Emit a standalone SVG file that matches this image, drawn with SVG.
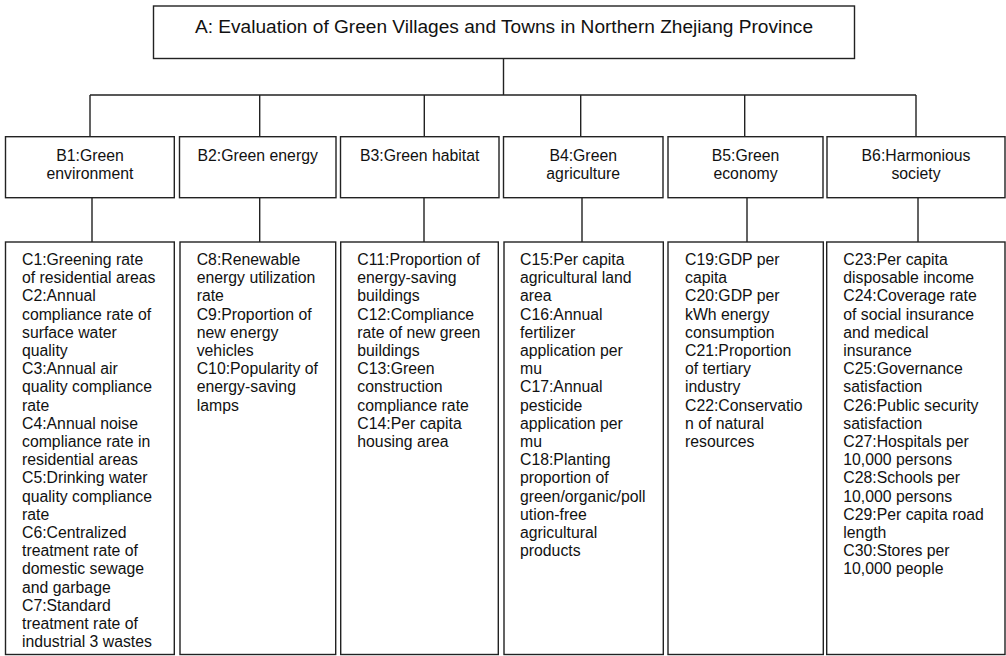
<svg xmlns="http://www.w3.org/2000/svg" width="1006" height="656" viewBox="0 0 1006 656">
<style>
.box{fill:#fff;stroke:#222;stroke-width:1.4}
.ln{stroke:#222;stroke-width:1.4;fill:none}
.t{font-family:"Liberation Sans",Arial,sans-serif;font-size:15.8px;fill:#111}
.title{font-family:"Liberation Sans",Arial,sans-serif;font-size:19.1px;fill:#111}
.c{text-anchor:middle}
</style>
<rect width="1006" height="656" fill="#fff"/>
<g id="connectors">
<path class="ln" d="M503.5 58.5V95M90 95H916M90 95V136.7M259.7 95V136.7M424.3 95V136.7M580.7 95V136.7M744.7 95V136.7M916 95V136.7"/>
<path class="ln" d="M92 197.7V242M259.7 197.7V242M424 197.7V242M582 197.7V242M747 197.7V242M918 197.7V242"/>
</g>
<g id="A">
<rect class="box" x="153.5" y="6" width="701" height="52.5"/>
<text class="title c" x="504" y="33">A: Evaluation of Green Villages and Towns in Northern Zhejiang Province</text>
</g>
<g id="B1">
<rect class="box" x="5.5" y="136.7" width="168.8" height="61"/>
<text class="t c" x="90" y="161">B1:Green<tspan x="90" dy="18">environment</tspan></text>
</g>
<g id="B2">
<rect class="box" x="179.5" y="136.7" width="156.5" height="61"/>
<text class="t c" x="257.7" y="161">B2:Green energy</text>
</g>
<g id="B3">
<rect class="box" x="340.5" y="136.7" width="158.5" height="61"/>
<text class="t c" x="419.7" y="161">B3:Green habitat</text>
</g>
<g id="B4">
<rect class="box" x="503.5" y="136.7" width="159.5" height="61"/>
<text class="t c" x="583.2" y="161">B4:Green<tspan x="583.2" dy="18">agriculture</tspan></text>
</g>
<g id="B5">
<rect class="box" x="668" y="136.7" width="155" height="61"/>
<text class="t c" x="745.5" y="161">B5:Green<tspan x="745.5" dy="18">economy</tspan></text>
</g>
<g id="B6">
<rect class="box" x="827" y="136.7" width="178" height="61"/>
<text class="t c" x="916" y="161">B6:Harmonious<tspan x="916" dy="18">society</tspan></text>
</g>
<g id="C1-C7">
<rect class="box" x="5.5" y="242" width="168.8" height="412.5"/>
<text class="t" x="22" y="265">C1:Greening rate<tspan x="22" dy="18.2">of residential areas</tspan><tspan x="22" dy="18.2">C2:Annual</tspan><tspan x="22" dy="18.2">compliance rate of</tspan><tspan x="22" dy="18.2">surface water</tspan><tspan x="22" dy="18.2">quality</tspan><tspan x="22" dy="18.2">C3:Annual air</tspan><tspan x="22" dy="18.2">quality compliance</tspan><tspan x="22" dy="18.2">rate</tspan><tspan x="22" dy="18.2">C4:Annual noise</tspan><tspan x="22" dy="18.2">compliance rate in</tspan><tspan x="22" dy="18.2">residential areas</tspan><tspan x="22" dy="18.2">C5:Drinking water</tspan><tspan x="22" dy="18.2">quality compliance</tspan><tspan x="22" dy="18.2">rate</tspan><tspan x="22" dy="18.2">C6:Centralized</tspan><tspan x="22" dy="18.2">treatment rate of</tspan><tspan x="22" dy="18.2">domestic sewage</tspan><tspan x="22" dy="18.2">and garbage</tspan><tspan x="22" dy="18.2">C7:Standard</tspan><tspan x="22" dy="18.2">treatment rate of</tspan><tspan x="22" dy="18.2">industrial 3 wastes</tspan></text>
</g>
<g id="C8-C10">
<rect class="box" x="180" y="242" width="155.7" height="412.5"/>
<text class="t" x="196.7" y="265">C8:Renewable<tspan x="196.7" dy="18.2">energy utilization</tspan><tspan x="196.7" dy="18.2">rate</tspan><tspan x="196.7" dy="18.2">C9:Proportion of</tspan><tspan x="196.7" dy="18.2">new energy</tspan><tspan x="196.7" dy="18.2">vehicles</tspan><tspan x="196.7" dy="18.2">C10:Popularity of</tspan><tspan x="196.7" dy="18.2">energy-saving</tspan><tspan x="196.7" dy="18.2">lamps</tspan></text>
</g>
<g id="C11-C14">
<rect class="box" x="340.7" y="242" width="157.6" height="412.5"/>
<text class="t" x="357.3" y="265">C11:Proportion of<tspan x="357.3" dy="18.2">energy-saving</tspan><tspan x="357.3" dy="18.2">buildings</tspan><tspan x="357.3" dy="18.2">C12:Compliance</tspan><tspan x="357.3" dy="18.2">rate of new green</tspan><tspan x="357.3" dy="18.2">buildings</tspan><tspan x="357.3" dy="18.2">C13:Green</tspan><tspan x="357.3" dy="18.2">construction</tspan><tspan x="357.3" dy="18.2">compliance rate</tspan><tspan x="357.3" dy="18.2">C14:Per capita</tspan><tspan x="357.3" dy="18.2">housing area</tspan></text>
</g>
<g id="C15-C18">
<rect class="box" x="504" y="242" width="159.3" height="412.5"/>
<text class="t" x="520" y="265">C15:Per capita<tspan x="520" dy="18.2">agricultural land</tspan><tspan x="520" dy="18.2">area</tspan><tspan x="520" dy="18.2">C16:Annual</tspan><tspan x="520" dy="18.2">fertilizer</tspan><tspan x="520" dy="18.2">application per</tspan><tspan x="520" dy="18.2">mu</tspan><tspan x="520" dy="18.2">C17:Annual</tspan><tspan x="520" dy="18.2">pesticide</tspan><tspan x="520" dy="18.2">application per</tspan><tspan x="520" dy="18.2">mu</tspan><tspan x="520" dy="18.2">C18:Planting</tspan><tspan x="520" dy="18.2">proportion of</tspan><tspan x="520" dy="18.2">green/organic/poll</tspan><tspan x="520" dy="18.2">ution-free</tspan><tspan x="520" dy="18.2">agricultural</tspan><tspan x="520" dy="18.2">products</tspan></text>
</g>
<g id="C19-C22">
<rect class="box" x="668" y="242" width="155.3" height="412.5"/>
<text class="t" x="685" y="265">C19:GDP per<tspan x="685" dy="18.2">capita</tspan><tspan x="685" dy="18.2">C20:GDP per</tspan><tspan x="685" dy="18.2">kWh energy</tspan><tspan x="685" dy="18.2">consumption</tspan><tspan x="685" dy="18.2">C21:Proportion</tspan><tspan x="685" dy="18.2">of tertiary</tspan><tspan x="685" dy="18.2">industry</tspan><tspan x="685" dy="18.2">C22:Conservatio</tspan><tspan x="685" dy="18.2">n of natural</tspan><tspan x="685" dy="18.2">resources</tspan></text>
</g>
<g id="C23-C30">
<rect class="box" x="826.7" y="242" width="178.3" height="412.5"/>
<text class="t" x="843.3" y="265">C23:Per capita<tspan x="843.3" dy="18.2">disposable income</tspan><tspan x="843.3" dy="18.2">C24:Coverage rate</tspan><tspan x="843.3" dy="18.2">of social insurance</tspan><tspan x="843.3" dy="18.2">and medical</tspan><tspan x="843.3" dy="18.2">insurance</tspan><tspan x="843.3" dy="18.2">C25:Governance</tspan><tspan x="843.3" dy="18.2">satisfaction</tspan><tspan x="843.3" dy="18.2">C26:Public security</tspan><tspan x="843.3" dy="18.2">satisfaction</tspan><tspan x="843.3" dy="18.2">C27:Hospitals per</tspan><tspan x="843.3" dy="18.2">10,000 persons</tspan><tspan x="843.3" dy="18.2">C28:Schools per</tspan><tspan x="843.3" dy="18.2">10,000 persons</tspan><tspan x="843.3" dy="18.2">C29:Per capita road</tspan><tspan x="843.3" dy="18.2">length</tspan><tspan x="843.3" dy="18.2">C30:Stores per</tspan><tspan x="843.3" dy="18.2">10,000 people</tspan></text>
</g>
</svg>
